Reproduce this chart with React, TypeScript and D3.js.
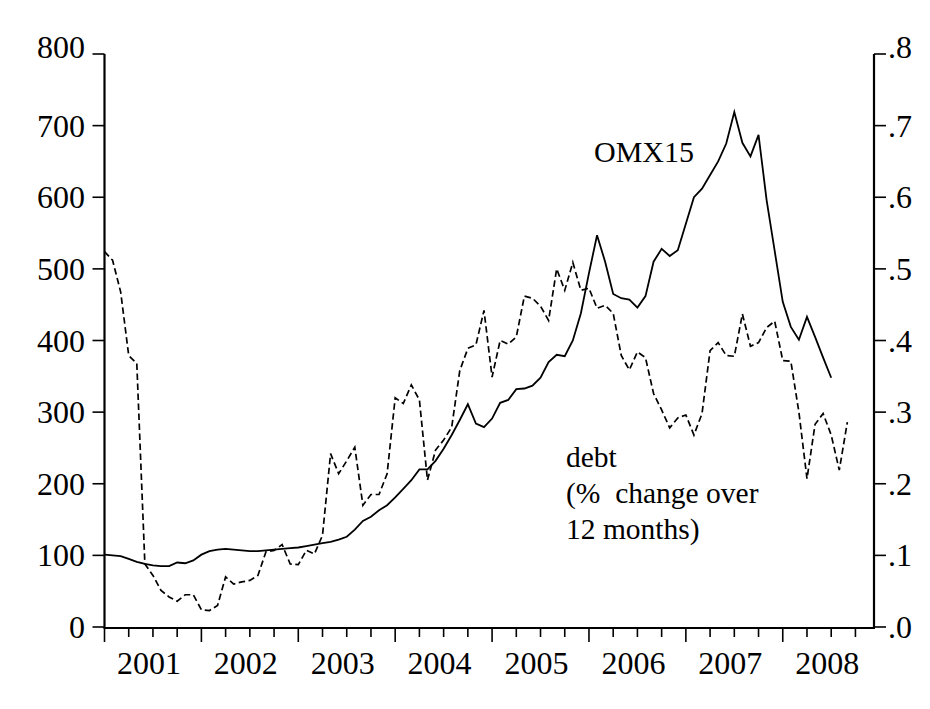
import React from "react";
import * as d3 from "d3";

const years = [2001, 2002, 2003, 2004, 2005, 2006, 2007, 2008];
const leftTicks = [0, 100, 200, 300, 400, 500, 600, 700, 800];
const rightTicks = [".0", ".1", ".2", ".3", ".4", ".5", ".6", ".7", ".8"];

// monthly, starting 2001M01
const omx15 = [
  101, 100, 99, 95, 91, 88, 86, 85, 85, 90, 89, 93,
  101, 106, 108, 109, 108, 107, 106, 106, 107, 108, 109, 110,
  111, 113, 115, 117, 119, 122, 126, 136, 148, 154, 163, 170,
  181, 193, 205, 220, 220, 232, 249, 268, 289, 311, 284, 279,
  291, 313, 317, 332, 333, 337, 348, 370, 380, 378, 400, 438,
  494, 547, 510, 465, 459, 457, 446, 462, 510, 528, 518, 526,
  563, 600, 612, 631, 650, 675, 719, 676, 657, 687, 596, 525,
  454, 419, 401, 433, 405, 376, 348,
];

const debt = [
  0.524, 0.512, 0.468, 0.379, 0.368, 0.088, 0.072, 0.051, 0.042, 0.036, 0.045, 0.045,
  0.024, 0.023, 0.030, 0.070, 0.060, 0.063, 0.065, 0.072, 0.105, 0.107, 0.115, 0.088,
  0.087, 0.107, 0.102, 0.128, 0.242, 0.214, 0.232, 0.251, 0.170, 0.185, 0.185, 0.214,
  0.320, 0.312, 0.338, 0.317, 0.205, 0.247, 0.261, 0.279, 0.358, 0.389, 0.394, 0.442,
  0.349, 0.400, 0.395, 0.405, 0.462, 0.459, 0.448, 0.428, 0.500, 0.470, 0.509, 0.470,
  0.473, 0.445, 0.449, 0.438, 0.379, 0.359, 0.384, 0.376, 0.326, 0.303, 0.278, 0.292,
  0.296, 0.268, 0.298, 0.386, 0.397, 0.379, 0.378, 0.437, 0.392, 0.397, 0.418, 0.427,
  0.372, 0.371, 0.300, 0.207, 0.283, 0.298, 0.268, 0.219, 0.286,
];

const FONT = "'Liberation Serif', 'Times New Roman', serif";

export default function App() {
  const x = d3.scaleLinear().domain([0, 95.3]).range([104.5, 874]);
  const yL = d3.scaleLinear().domain([0, 800]).range([627, 54]);
  const yR = d3.scaleLinear().domain([0, 0.8]).range([627, 54]);

  const omxLine = d3
    .line<number>()
    .x((_, i) => x(i))
    .y((d) => yL(d));
  const debtLine = d3
    .line<number>()
    .x((_, i) => x(i))
    .y((d) => yR(d));

  const nMonths = 96;
  const quarterTicks = d3.range(0, nMonths, 3);

  const left = x(0);
  const right = 874;
  const bottom = 628;
  const TF = 32;

  return (
    <svg
      width={930}
      height={709}
      style={{ position: "absolute", left: 0, top: 0, background: "#ffffff" }}
      fontFamily={FONT}
    >
      <rect x={0} y={0} width={930} height={709} fill="#ffffff" />
      {/* data */}
      <path d={omxLine(omx15) || ""} fill="none" stroke="#000" strokeWidth={1.8} />
      <path
        d={debtLine(debt) || ""}
        fill="none"
        stroke="#000"
        strokeWidth={1.7}
        strokeDasharray="6.5,3.5"
      />

      {/* axes */}
      <line x1={left} x2={left} y1={yL(800)} y2={bottom} stroke="#000" strokeWidth={2.2} />
      <line x1={right} x2={right} y1={yR(0.8)} y2={bottom} stroke="#000" strokeWidth={2.2} />
      <line x1={left - 1} x2={right + 1} y1={bottom} y2={bottom} stroke="#000" strokeWidth={2.2} />

      {leftTicks.map((t, i) => (
        <g key={"l" + t}>
          <line x1={left - 12} x2={left} y1={yL(t)} y2={yL(t)} stroke="#000" strokeWidth={1.6} />
          <text
            x={85}
            y={yL(t) + 11 - (i === leftTicks.length - 1 ? 7 : 0)}
            textAnchor="end"
            fontSize={TF}
            fill="#000"
          >
            {t}
          </text>
        </g>
      ))}

      {rightTicks.map((t, i) => (
        <g key={"r" + t}>
          <line x1={right} x2={right + 12} y1={yR(i / 10)} y2={yR(i / 10)} stroke="#000" strokeWidth={1.6} />
          <text
            x={888}
            y={yR(i / 10) + 11 - (i === rightTicks.length - 1 ? 7 : 0)}
            textAnchor="start"
            fontSize={TF}
            fill="#000"
          >
            {t}
          </text>
        </g>
      ))}

      {quarterTicks.map((m) => (
        <line
          key={"q" + m}
          x1={x(m)}
          x2={x(m)}
          y1={bottom}
          y2={m % 12 === 0 ? bottom + 14 : bottom + 9}
          stroke="#000"
          strokeWidth={1.6}
        />
      ))}

      {years.map((yr, k) => (
        <text key={yr} x={x(k * 12 + 5.5)} y={674} textAnchor="middle" fontSize={TF} fill="#000">
          {yr}
        </text>
      ))}

      {/* labels */}
      <text x={594} y={162} fontSize={30} fill="#000">
        OMX15
      </text>
      <text x={566} y={467} fontSize={29.5} fill="#000">
        debt
      </text>
      <text x={566} y={503} fontSize={29.5} fill="#000" xmlSpace="preserve">
        (%  change over
      </text>
      <text x={566} y={539} fontSize={29.5} fill="#000">
        12 months)
      </text>
    </svg>
  );
}
